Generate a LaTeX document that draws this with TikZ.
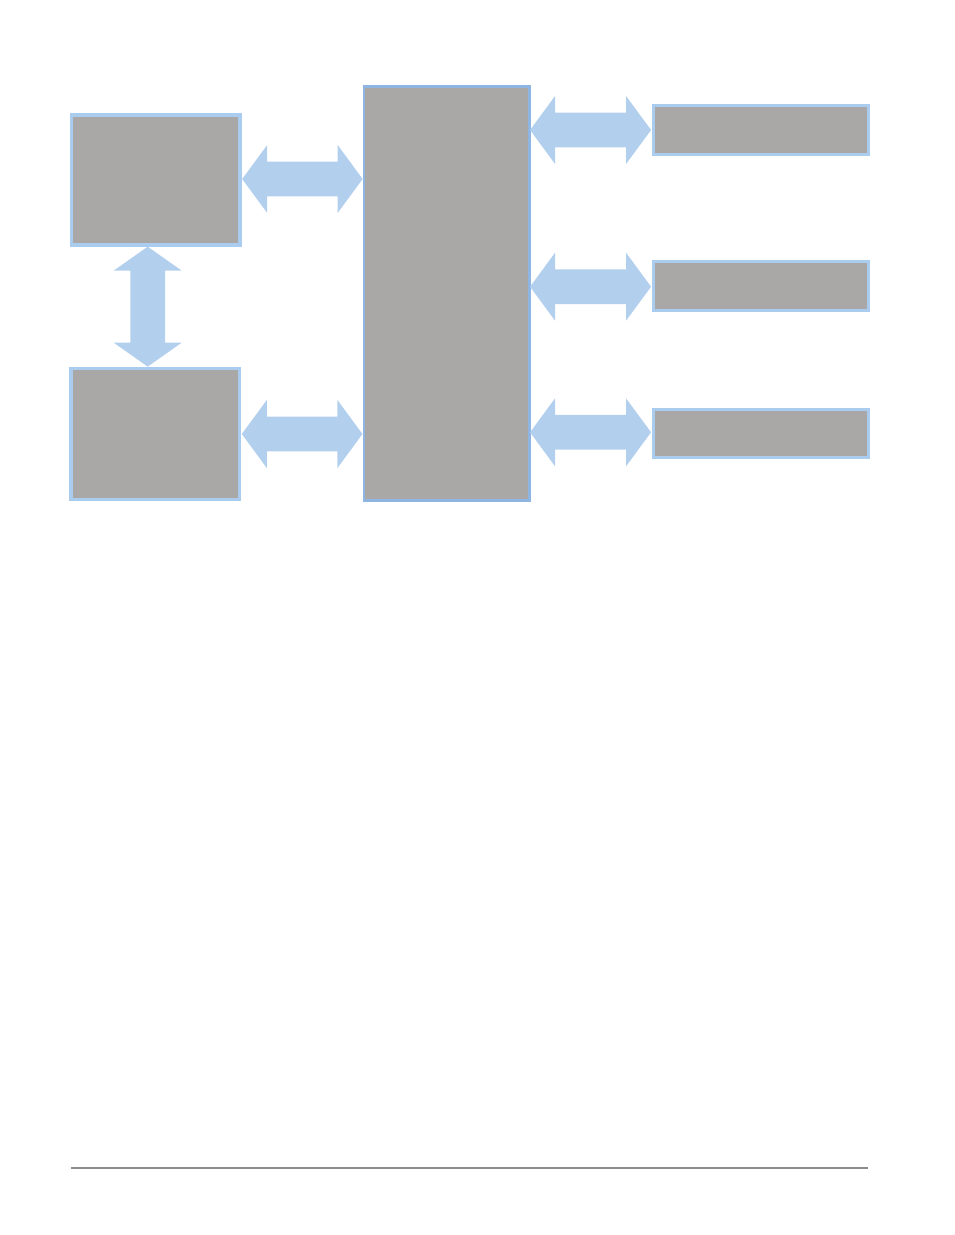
\documentclass[tikz,border=0pt]{standalone}
\usetikzlibrary{calc}
\definecolor{boxgray}{HTML}{A9A8A7}
\definecolor{boxline}{HTML}{AACCEE}
\definecolor{mainline}{HTML}{8FB5E3}
\definecolor{arrowfill}{HTML}{B2D0EE}
\definecolor{rulegray}{HTML}{8C8C8C}
\tikzset{
  box/.style={draw=boxline, fill=boxgray, line width=3.3pt, inner sep=0pt, rectangle},
  mainbox/.style={box, draw=mainline, line width=2.7pt},
  arr/.style={fill=arrowfill},
  footrule/.style={draw=rulegray, line width=1.2pt}
}
\newcommand\harrow[2]{%
  \fill[arr] let \p1=(#1), \p2=(#2) in
    (\x1,\y1) -- (\x1+25pt,\y1+34pt) -- (\x1+25pt,\y1+17.4pt) -- (\x2-25pt,\y1+17.4pt)
    -- (\x2-25pt,\y1+34pt) -- (\x2,\y1) -- (\x2-25pt,\y1-34pt) -- (\x2-25pt,\y1-17.4pt)
    -- (\x1+25pt,\y1-17.4pt) -- (\x1+25pt,\y1-34pt) -- cycle;}
\newcommand\varrow[2]{%
  \fill[arr] let \p1=(#1), \p2=(#2) in
    (\x1,\y1) -- (\x1+34pt,\y1-24pt) -- (\x1+17.3pt,\y1-24pt) -- (\x1+17.3pt,\y2+24pt)
    -- (\x1+34pt,\y2+24pt) -- (\x1,\y2) -- (\x1-34pt,\y2+24pt) -- (\x1-17.3pt,\y2+24pt)
    -- (\x1-17.3pt,\y1-24pt) -- (\x1-34pt,\y1-24pt) -- cycle;}
\begin{document}
\begin{tikzpicture}[x=1pt,y=-1pt]
\useasboundingbox (0,0) rectangle (954,1235);
\node[box, minimum width=168.3pt, minimum height=130pt] (A) at (155.8,180) {};
\node[box, minimum width=168.3pt, minimum height=131pt] (B) at (155.2,433.8) {};
\node[mainbox, minimum width=165.4pt, minimum height=414pt] (C) at (446.7,293.3) {};
\node[box, minimum width=214.6pt, minimum height=48.6pt] (R1) at (761,130) {};
\node[box, minimum width=214.6pt, minimum height=48.4pt] (R2) at (761,286) {};
\node[box, minimum width=214.6pt, minimum height=48pt] (R3) at (761,433.2) {};
% connectors
\coordinate (a1) at ($(A.east)+(0.6,-1)$);
\coordinate (a2) at ($(C.west|-A.east)+(0,-1)$);
\harrow{a1}{a2}
\coordinate (b1) at ($(B.east)+(0.8,0.2)$);
\coordinate (b2) at ($(C.west|-B.east)+(-0.2,0.2)$);
\harrow{b1}{b2}
\coordinate (v1) at ($(A.south)+(-8.1,0)$);
\coordinate (v2) at ($(B.north)+(-7.5,0)$);
\varrow{v1}{v2}
\coordinate (r1a) at ($(C.east|-R1.west)+(-0.7,0)$);
\coordinate (r1b) at ($(R1.west)+(-1,0)$);
\harrow{r1a}{r1b}
\coordinate (r2a) at ($(C.east|-R2.west)+(-0.7,0.7)$);
\coordinate (r2b) at ($(R2.west)+(-1,0.7)$);
\harrow{r2a}{r2b}
\coordinate (r3a) at ($(C.east|-R3.west)+(-0.7,-0.9)$);
\coordinate (r3b) at ($(R3.west)+(-1,-0.9)$);
\harrow{r3a}{r3b}
% footer rule
\coordinate (f1) at (71,1168);
\coordinate (f2) at (868,1168);
\draw[footrule] (f1) -- (f2);
\end{tikzpicture}
\end{document}
